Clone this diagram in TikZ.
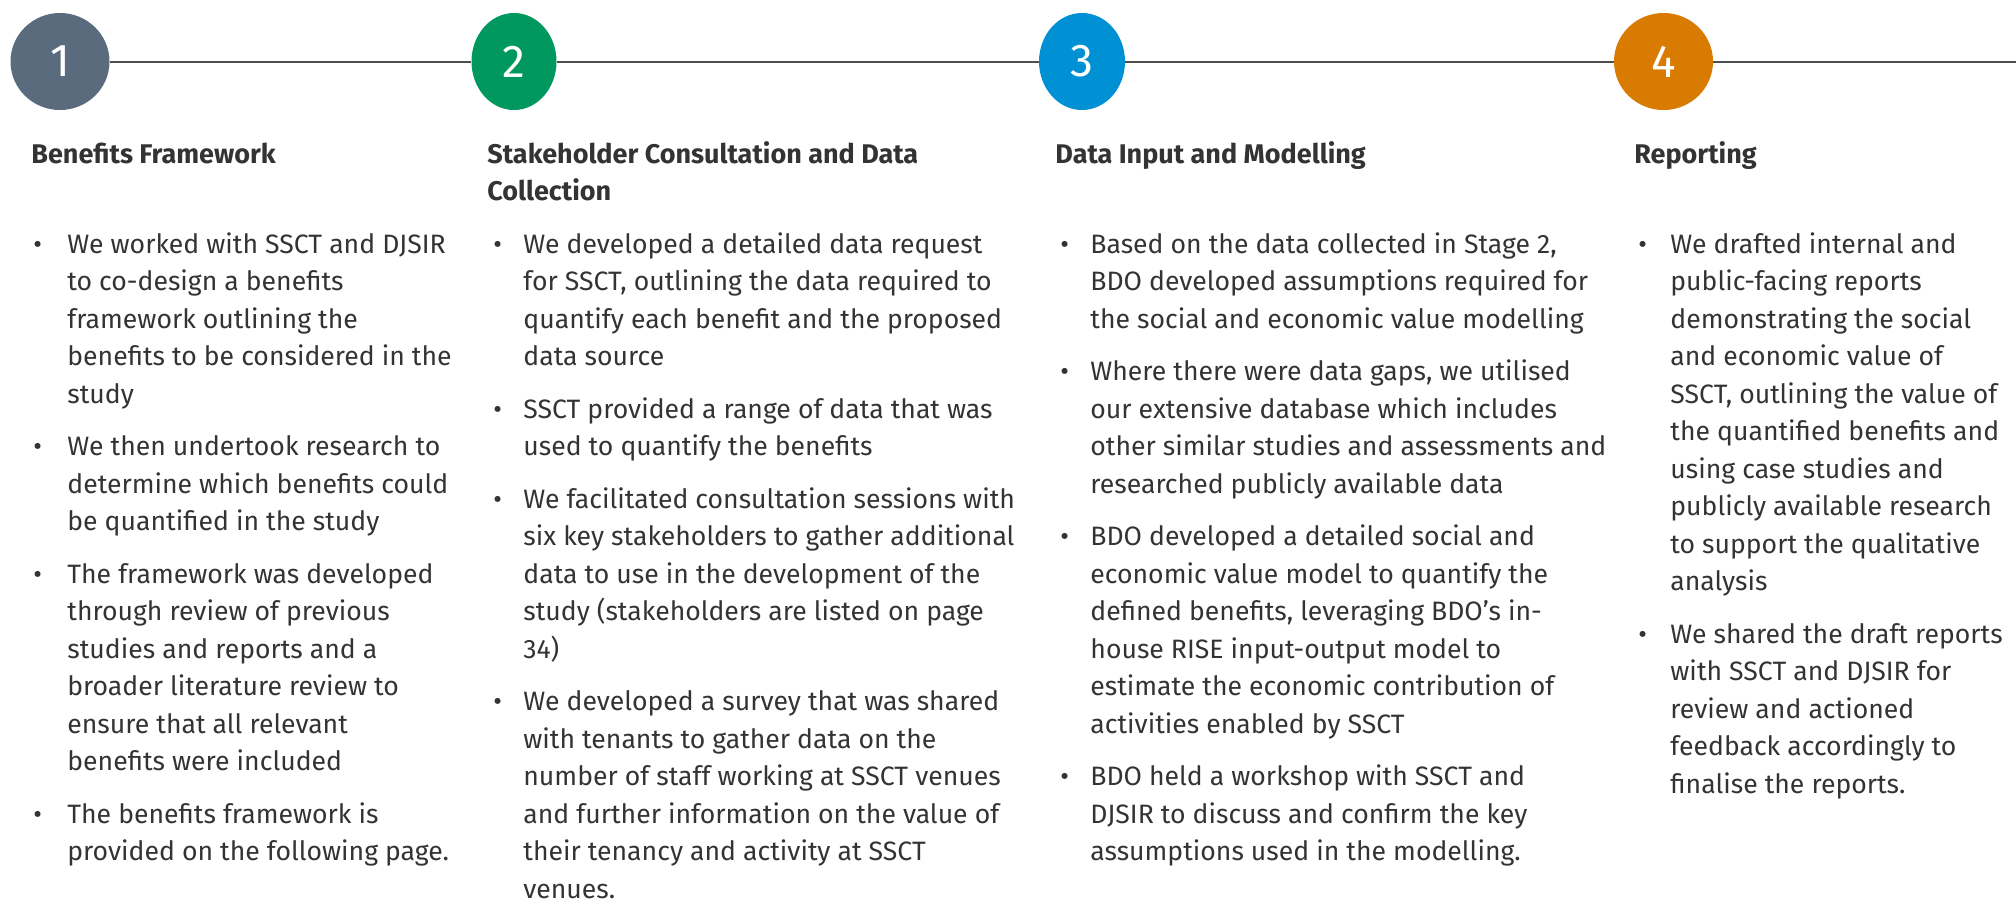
\documentclass[tikz,border=0pt]{standalone}
\usepackage{fontspec}
\setmainfont{Fira Sans}
\usetikzlibrary{shapes.geometric}
\definecolor{txt}{HTML}{333333}
\definecolor{cone}{HTML}{5A6B7E}
\definecolor{ctwo}{HTML}{00985F}
\definecolor{cthree}{HTML}{0091D5}
\definecolor{cfour}{HTML}{D87B00}
\definecolor{rulecol}{HTML}{4D4D4D}
\newlength\bind
\newcommand\bul[1]{\noindent\hangindent=\bind\hangafter=1\makebox[\bind][l]{\textbullet}#1\par\vspace{7.5pt}}
\newcommand\bodyfont{\fontsize{13.3pt}{18.75pt}\selectfont}
\newcommand\headfont{\bfseries\fontsize{13.5pt}{18.5pt}\selectfont}
\newcommand\colbox[2]{\begin{minipage}[t]{320pt}\bodyfont\setlength\bind{#1}#2\end{minipage}}
\begin{document}
\begin{tikzpicture}[x=0.5pt,y=-0.5pt,
  stage/.style={ellipse, inner sep=0pt, text=white, font=\fontsize{23pt}{23pt}\selectfont, minimum height=48.5pt},
  head/.style={anchor=base west, inner sep=0pt, text=txt, font=\headfont},
  body/.style={anchor=base west, inner sep=0pt, text=txt},
  link/.style={draw=rulecol, line width=1pt}]
\useasboundingbox (0,0) rectangle (2016,901);
\node[stage, fill=cone, minimum width=49.5pt] (s1) at (60,61.5) {1};
\node[stage, fill=ctwo, minimum width=42.5pt] (s2) at (514,61.5) {2};
\node[stage, fill=cthree, minimum width=43pt] (s3) at (1082,61.5) {3};
\node[stage, fill=cfour, minimum width=49.5pt] (s4) at (1663.5,61.5) {4};
\coordinate (lend) at (2016,61.5);
\draw[link] (s1) -- (s2);
\draw[link] (s2) -- (s3);
\draw[link] (s3) -- (s4);
\draw[link] (s4) -- (lend);

\node[head] (h1) at (31,163) {Benefits Framework};
\node[head] (h2) at (487,163) {\begin{minipage}[t]{300pt}\headfont Stakeholder Consultation and Data\\Collection\end{minipage}};
\node[head] (h3) at (1055,163) {Data Input and Modelling};
\node[head] (h4) at (1634,163) {Reporting};

\node[body] (b1) at (33,253) {\colbox{17pt}{%
\bul{We worked with SSCT and DJSIR\\to co-design a benefits\\framework outlining the\\benefits to be considered in the\\study}
\bul{We then undertook research to\\determine which benefits could\\be quantified in the study}
\bul{The framework was developed\\through review of previous\\studies and reports and a\\broader literature review to\\ensure that all relevant\\benefits were included}
\bul{The benefits framework is\\provided on the following page.}}};

\node[body] (b2) at (493,253) {\colbox{15pt}{%
\bul{We developed a detailed data request\\for SSCT, outlining the data required to\\quantify each benefit and the proposed\\data source}
\bul{SSCT provided a range of data that was\\used to quantify the benefits}
\bul{We facilitated consultation sessions with\\six key stakeholders to gather additional\\data to use in the development of the\\study (stakeholders are listed on page\\34)}
\bul{We developed a survey that was shared\\with tenants to gather data on the\\number of staff working at SSCT venues\\and further information on the value of\\their tenancy and activity at SSCT\\venues.}}};

\node[body] (b3) at (1060,253) {\colbox{15pt}{%
\bul{Based on the data collected in Stage 2,\\BDO developed assumptions required for\\the social and economic value modelling}
\bul{Where there were data gaps, we utilised\\our extensive database which includes\\other similar studies and assessments and\\researched publicly available data}
\bul{BDO developed a detailed social and\\economic value model to quantify the\\defined benefits, leveraging BDO’s in-\\house RISE input-output model to\\estimate the economic contribution of\\activities enabled by SSCT}
\bul{BDO held a workshop with SSCT and\\DJSIR to discuss and confirm the key\\assumptions used in the modelling.}}};

\node[body] (b4) at (1638,253) {\colbox{16pt}{%
\bul{We drafted internal and\\public-facing reports\\demonstrating the social\\and economic value of\\SSCT, outlining the value of\\the quantified benefits and\\using case studies and\\publicly available research\\to support the qualitative\\analysis}
\bul{We shared the draft reports\\with SSCT and DJSIR for\\review and actioned\\feedback accordingly to\\finalise the reports.}}};
\end{tikzpicture}
\end{document}
